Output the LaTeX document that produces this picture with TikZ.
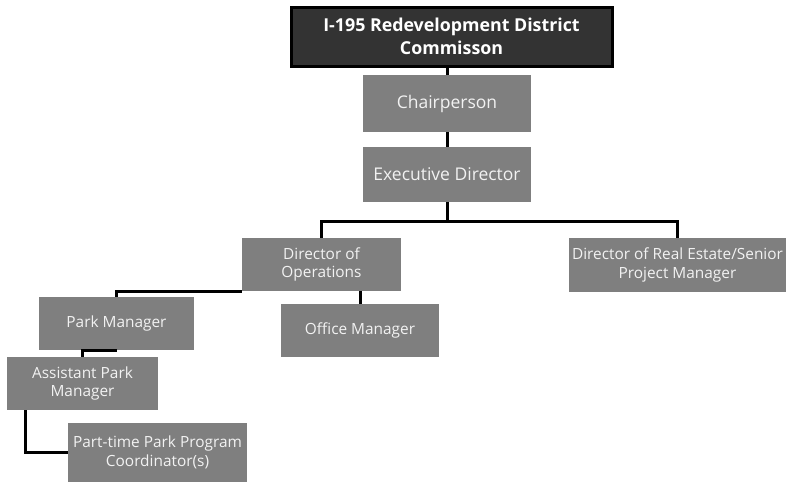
\documentclass[tikz,border=0pt]{standalone}
\usepackage{fontspec}
\setmainfont{Open Sans}
\definecolor{boxgray}{HTML}{7F7F7F}
\definecolor{headfill}{HTML}{333333}
\definecolor{boxtext}{HTML}{F2F2F2}
\begin{document}
\begin{tikzpicture}[x=1pt,y=-1pt,
  unit/.style={rectangle, fill=boxgray, text=boxtext, align=center, inner sep=0pt},
  head/.style={rectangle, fill=headfill, draw=black, line width=3pt, text=white,
    align=center, inner sep=0pt, font=\bfseries\fontsize{17.8}{23}\selectfont},
  big/.style={font=\fontsize{17.5}{21}\selectfont},
  small/.style={font=\fontsize{15.4}{18.5}\selectfont},
  link/.style={draw=black, line width=3pt}]
\useasboundingbox (0,0) rectangle (787,483);

% connectors first, so the boxes sit on top of them
\coordinate (bus) at (447,221);

\node[head, minimum width=321pt, minimum height=59pt] (title) at (451.5,36.5)
  {I-195 Redevelopment District\\Commisson};
\node[unit, big, minimum width=168pt, minimum height=57pt] (chair) at (447,103.5) {Chairperson};
\node[unit, big, minimum width=168pt, minimum height=55pt] (exec) at (447,174.5) {Executive Director};
\node[unit, small, minimum width=159pt, minimum height=53pt] (dirops) at (321.5,264.5) {Director of\\Operations};
\node[unit, small, minimum width=217pt, minimum height=54pt] (realestate) at (677.5,265) {Director of Real Estate/Senior\\Project Manager};
\node[unit, small, minimum width=155pt, minimum height=53pt] (parkmgr) at (116.5,323.5) {Park Manager};
\node[unit, small, minimum width=158pt, minimum height=53pt] (office) at (360,330.5) {Office Manager};
\node[unit, small, minimum width=151pt, minimum height=53pt] (asst) at (82.5,383.5) {Assistant Park\\Manager};
\node[unit, small, minimum width=179pt, minimum height=59pt] (parttime) at (157.5,452.5) {Part-time Park Program\\Coordinator(s)};

\draw[link] (title.south -| chair.north) -- (chair.north);
\draw[link] (chair.south) -- (exec.north);
\draw[link] (exec.south) -- (bus);
\draw[link] (dirops.north) |- (bus) -| (realestate.north);
\draw[link] (dirops.south west) -| (parkmgr.north);
\draw[link] (dirops.south -| office.north) -- (office.north);
\draw[link] (parkmgr.south) -| (asst.north);
\draw[link] ([xshift=-57.5pt]asst.south) |- (parttime.west);
\end{tikzpicture}
\end{document}
